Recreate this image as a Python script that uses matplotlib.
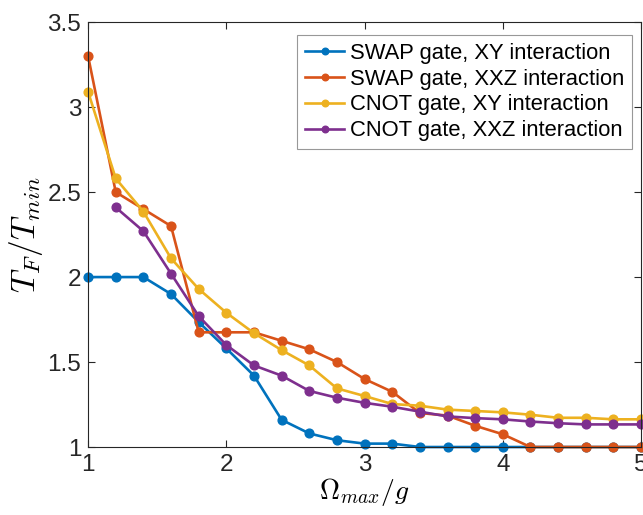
import matplotlib
matplotlib.use('Agg')
import matplotlib.pyplot as plt

plt.rcParams['font.family'] = ['Liberation Sans', 'DejaVu Sans']
plt.rcParams['mathtext.fontset'] = 'cm'

omega = [1.0, 1.2, 1.4, 1.6, 1.8, 2.0, 2.2, 2.4, 2.6, 2.8, 3.0,
         3.2, 3.4, 3.6, 3.8, 4.0, 4.2, 4.4, 4.6, 4.8, 5.0]

swap_xy = [2.0, 2.0, 2.0, 1.9, 1.735, 1.58, 1.42, 1.16, 1.08, 1.04, 1.02,
           1.02, 1.0, 1.0, 1.0, 1.0, 1.0, 1.0, 1.0, 1.0, 1.0]
swap_xxz = [3.30, 2.50, 2.40, 2.30, 1.675, 1.675, 1.675, 1.625, 1.575, 1.50, 1.40,
            1.325, 1.20, 1.185, 1.125, 1.075, 1.0, 1.0, 1.0, 1.0, 1.0]
cnot_xy = [3.09, 2.58, 2.385, 2.11, 1.93, 1.79, 1.67, 1.57, 1.48, 1.345, 1.30,
           1.253, 1.243, 1.22, 1.212, 1.204, 1.19, 1.172, 1.172, 1.163, 1.163]
omega_cnot_xxz = omega[1:]
cnot_xxz = [2.41, 2.27, 2.02, 1.77, 1.60, 1.48, 1.42, 1.33, 1.29, 1.26,
            1.237, 1.208, 1.18, 1.17, 1.163, 1.15, 1.14, 1.133, 1.133, 1.133]

labels = ['SWAP gate, XY interaction', 'SWAP gate, XXZ interaction',
          'CNOT gate, XY interaction', 'CNOT gate, XXZ interaction']
colors = ['#0072BD', '#D95319', '#EDB120', '#7E2F8E']

fig = plt.figure(figsize=(6.43, 5.15), dpi=100)
ax = fig.add_axes([0.137, 0.132, 0.86, 0.825])

series = [(omega, swap_xy), (omega, swap_xxz), (omega, cnot_xy), (omega_cnot_xxz, cnot_xxz)]
for (xs, ys), lab, c in zip(series, labels, colors):
    ax.plot(xs, ys, '-o', color=c, lw=1.9, ms=6.3, label=lab, clip_on=False)

ax.set_xlim(1, 5)
ax.set_ylim(1, 3.5)
ax.set_xticks([1, 2, 3, 4, 5])
ax.set_yticks([1, 1.5, 2, 2.5, 3, 3.5])
ax.set_yticklabels(['1', '1.5', '2', '2.5', '3', '3.5'])
ax.tick_params(direction='in', top=True, right=True, labelsize=17.5, length=5,
               width=0.8, colors='#262626', pad=5)
for s in ax.spines.values():
    s.set_color('#262626')
    s.set_linewidth(0.8)

ax.set_xlabel(r'$\Omega_{max}/g$', fontsize=20, labelpad=0)
ax.set_ylabel(r'$T_F/T_{min}$', fontsize=24, labelpad=2)

leg = ax.legend(loc='upper right', fontsize=15.8, frameon=True, fancybox=False,
                edgecolor='#7f7f7f', handlelength=1.8, handletextpad=0.25,
                borderpad=0.35, borderaxespad=0.3, labelspacing=0.22,
                markerscale=0.75, bbox_to_anchor=(0.995, 0.985))
leg.get_frame().set_linewidth(0.8)

fig.savefig('out.png', dpi=100)
